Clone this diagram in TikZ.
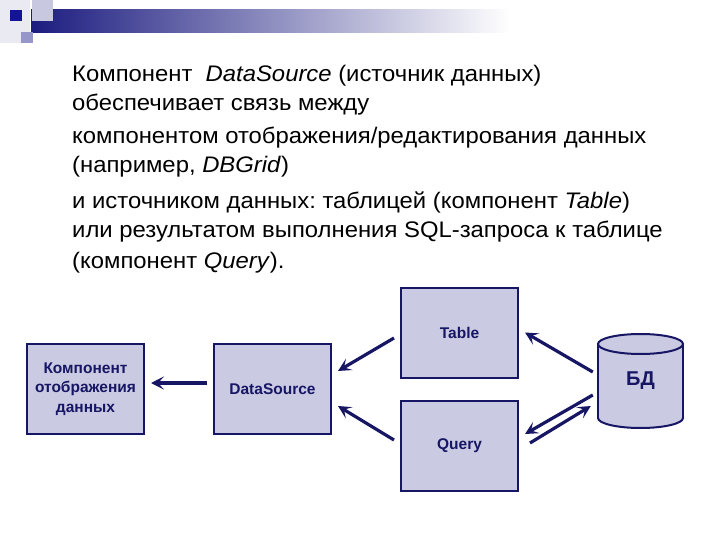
\documentclass[tikz,border=0pt]{standalone}
\usepackage{fontspec}
\setmainfont{Liberation Sans}
\newfontfamily\bodyfont[FakeStretch=1.06]{Liberation Sans}
\usetikzlibrary{arrows.meta,calc}
\definecolor{navy}{RGB}{22,22,100}
\definecolor{boxfill}{RGB}{202,202,226}
\definecolor{barstart}{RGB}{28,28,128}
\frenchspacing
\begin{document}
\begin{tikzpicture}[x=1pt,y=-1pt,
  box/.style={draw=navy,line width=2pt,fill=boxfill,minimum width=117pt,minimum height=90pt,
    inner sep=0pt,align=center,text=navy,font=\fontsize{15.5}{19.5}\selectfont\bfseries},
  body/.style={anchor=base west,inner sep=0pt,font=\bodyfont\fontsize{22.5}{26}\selectfont},
  conn/.style={draw=navy,line width=3.2pt,-{Stealth[length=13pt,width=13pt,inset=6pt]}}]
\useasboundingbox[fill=white] (0,0) rectangle (720,540);
% header decoration
\fill[color={rgb,255:red,234;green,234;blue,242}] (0,0) rectangle (30,43);
\fill[left color=barstart,right color=white] (31,10) rectangle (510,33);
\fill[color={rgb,255:red,200;green,200;blue,224}] (32,0) rectangle (53,21);
\fill[color={rgb,255:red,150;green,150;blue,200}] (21,32) rectangle (33,43);
\fill[color={rgb,255:red,20;green,20;blue,150}] (10,10) rectangle (22,21);
% body text
\node[body] (l1) at (72,82) {Компонент\ \ \textit{DataSource} (источник данных)};
\node[body] (l2) at (72,111) {обеспечивает связь между};
\node[body] (l3) at (72,144) {компонентом отображения/редактирования данных};
\node[body] (l4) at (72,173) {(например, \textit{DBGrid})};
\node[body] (l5) at (72,208) {и источником данных: таблицей (компонент \textit{Table})};
\node[body] (l6) at (72,237) {или результатом выполнения SQL-запроса к таблице};
\node[body] (l7) at (72,268) {(компонент \textit{Query}).};
% boxes
\node[box] (view) at (85.5,389) {Компонент\\отображения\\данных};
\node[box] (ds) at (272.5,389) {DataSource};
\node[box] (tbl) at (459.5,332.5) {Table};
\node[box] (qry) at (459.5,445.5) {Query};
% cylinder
\fill[boxfill] (598,344) rectangle (683,418);
\fill[boxfill] (640.5,418) ellipse [x radius=42.5, y radius=10];
\begin{scope}
\clip (590,418) rectangle (692,440);
\draw[navy,line width=2pt] (640.5,418) ellipse [x radius=42.5, y radius=10];
\end{scope}
\draw[navy,line width=2pt] (598,344) -- (598,418) (683,344) -- (683,418);
\draw[navy,line width=2pt,fill=boxfill] (640.5,344) ellipse [x radius=42.5, y radius=10];
\node[inner sep=0pt,minimum width=85pt,minimum height=94pt,text=navy,
  font=\fontsize{20}{24}\selectfont\bfseries] (db) at (640.5,381) {БД};
% connectors
\draw[conn] ($(ds.west)+(-6,-6)$) -- ($(view.east)+(6,-6)$);
\draw[conn] ($(tbl.west)+(-6,5.5)$) -- ($(ds.east)+(6,-18)$);
\draw[conn] ($(qry.west)+(-6,-5.5)$) -- ($(ds.east)+(6,17)$);
\draw[conn] ($(db.west)+(-5,-9)$) -- ($(tbl.east)+(6,0)$);
\draw[conn] ($(db.west)+(-5,14)$) -- ($(qry.east)+(6,-11.5)$);
\draw[conn] ($(qry.east)+(11,-2.5)$) -- ($(db.west)+(-7,25)$);
\end{tikzpicture}
\end{document}
